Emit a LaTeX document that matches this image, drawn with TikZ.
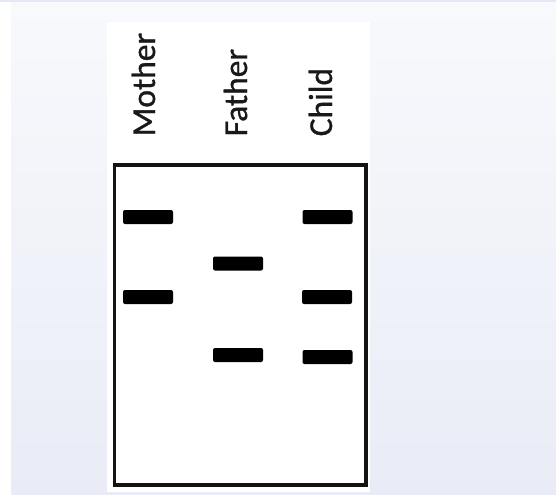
\documentclass[tikz,border=0pt]{standalone}
\usepackage{fontspec}
\setmainfont{Carlito}
\newfontfamily\lanefont{Carlito}[FakeBold=0.9]
\begin{document}
\begin{tikzpicture}[x=1pt,y=-1pt,
  lane/.style={rotate=90,anchor=base west,inner sep=0pt,font=\lanefont\fontsize{33.5}{34}\selectfont,text=black!90},
  band/.style={fill=black,rounded corners=2pt,minimum width=50pt,minimum height=14pt,inner sep=0pt}]
\definecolor{bgtop}{HTML}{F8F9FC}
\definecolor{bgbot}{HTML}{E9ECF6}
\definecolor{topline}{HTML}{E4E8F4}
\useasboundingbox (0,0) rectangle (556,497);
% backdrop
\fill[white] (0,0) rectangle (556,497);
\shade[top color=bgtop,bottom color=bgbot] (11,2) rectangle (556,494);
\fill[topline] (0,0) rectangle (556,2.5);
% white sheet behind the gel
\fill[white] (107,22) rectangle (370,492);
% gel outline
\draw[line width=3.5pt,black!92] (114.5,165) rectangle (366,485);
% lane labels
\node[lane] (mother) at (155,136.5) {Mother};
\node[lane] (father) at (247,136.5) {Father};
\node[lane] (child)  at (332,136.5) {Child};
% DNA bands
\node[band] (m1) at (148,217) {};
\node[band] (m2) at (148,297) {};
\node[band] (f1) at (238,263.5) {};
\node[band] (f2) at (238,355) {};
\node[band] (c1) at (327.5,217) {};
\node[band] (c2) at (327,297) {};
\node[band] (c3) at (327.5,357) {};
\end{tikzpicture}
\end{document}
